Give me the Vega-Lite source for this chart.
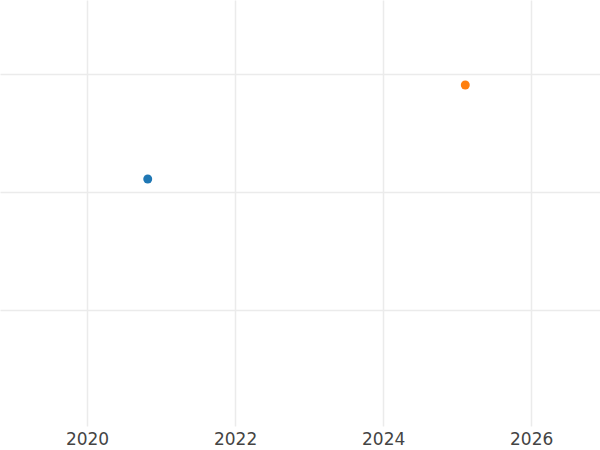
{
  "$schema": "https://vega.github.io/schema/vega-lite/v6.json",
  "width": 600,
  "height": 426,
  "padding": 0,
  "autosize": {"type": "pad"},
  "background": "white",
  "config": {"view": {"stroke": null}, "font": "DejaVu Sans"},
  "data": {"values": [
    {"year": 2020.82, "value": 2.11, "series": "A"},
    {"year": 2025.11, "value": 2.907, "series": "B"}
  ]},
  "mark": {"type": "circle", "size": 80, "opacity": 1},
  "encoding": {
    "x": {"field": "year", "type": "quantitative",
      "scale": {"domain": [2018.824, 2026.93], "nice": false, "zero": false},
      "axis": {"title": null, "values": [2020, 2022, 2024, 2026], "format": "d", "domain": false, "ticks": false,
        "labelFont": "DejaVu Sans", "labelPadding": 5, "labelFontSize": 17, "labelColor": "#444444", "gridColor": "#ebebeb", "gridWidth": 1.5}},
    "y": {"field": "value", "type": "quantitative",
      "scale": {"domain": [0.017, 3.627], "nice": false, "zero": false},
      "axis": {"title": null, "values": [1, 2, 3], "labels": false, "domain": false, "ticks": false,
        "gridColor": "#ebebeb", "gridWidth": 1.5}},
    "color": {"field": "series", "type": "nominal",
      "scale": {"range": ["#1f77b4", "#ff7f0e"]}, "legend": null}
  }
}
